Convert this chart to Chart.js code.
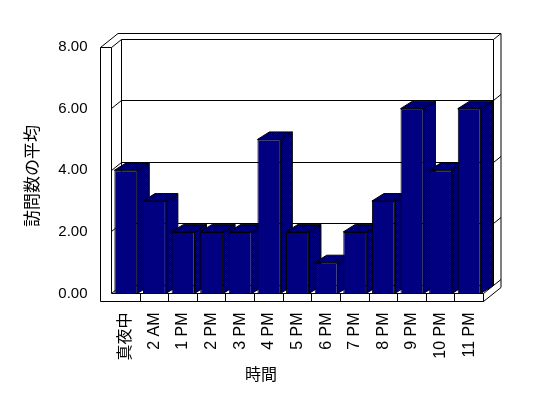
<!DOCTYPE html>
<html><head><meta charset="utf-8">
<style>html,body{margin:0;padding:0;background:#fff}#c{display:block}</style>
<script src="https://cdn.jsdelivr.net/npm/chart.js@4/dist/chart.umd.min.js"></script>
</head><body>
<canvas id="c" width="548" height="398"></canvas>
<script>
const categories = ['真夜中','2 AM','1 PM','2 PM','3 PM','4 PM','5 PM','6 PM','7 PM','8 PM','9 PM','10 PM','11 PM'];
const values = [4,3,2,2,2,5,2,1,2,3,6,4,6];
const yTickValues = [0,2,4,6,8];
const yAxisTitle = '訪問数の平均';
const xAxisTitle = '時間';

const NAVY = '#000080';
const LATIN = "'Liberation Sans', 'Noto Sans CJK JP', sans-serif";
const CJK = "'Noto Sans CJK JP', sans-serif";

const cv = document.getElementById('c');
const ctx0 = cv.getContext('2d');
const pc = document.createElement('canvas'); pc.width = 2; pc.height = 2;
const pctx = pc.getContext('2d');
pctx.fillStyle = '#000000'; pctx.fillRect(0,0,2,2);
pctx.fillStyle = NAVY; pctx.fillRect(0,0,1,1); pctx.fillRect(1,1,1,1);
const darkPattern = ctx0.createPattern(pc, 'repeat');

const WALL = 11, FLOOR = 8;
const D1 = [10, -8], D2 = [17.5, -14], BD = [12, -7.5];
const snap = v => Math.round(v - 0.5) + 0.5;

function line(ctx, pts) {
  ctx.beginPath();
  ctx.moveTo(pts[0][0], pts[0][1]);
  for (let i = 1; i < pts.length; i++) ctx.lineTo(pts[i][0], pts[i][1]);
  ctx.stroke();
}

const frame3d = {
  id: 'frame3d',
  beforeDatasetsDraw(chart) {
    const ctx = chart.ctx, ca = chart.chartArea;
    const ys = chart.scales.y, xs = chart.scales.x;
    const L = snap(ca.left), R = snap(ca.right), T = snap(ca.top), B = snap(ca.bottom);
    ctx.save();
    ctx.strokeStyle = '#000'; ctx.lineWidth = 1;
    yTickValues.forEach(v => {
      const y = snap(ys.getPixelForValue(v));
      line(ctx, [[L - WALL, y], [L, y], [L + D1[0], y + D1[1]], [R + D1[0], y + D1[1]], [R + D2[0], y + D2[1]]]);
    });
    line(ctx, [[L + D1[0], T + D1[1]], [L + D1[0], B + D1[1]]]);
    line(ctx, [[R + D1[0], T + D1[1]], [R + D1[0], B + D1[1]]]);
    line(ctx, [[R + D2[0], T + D2[1]], [R + D2[0], B + FLOOR + D2[1]]]);
    line(ctx, [[L - WALL, T], [L - WALL + D2[0], T + D2[1]], [R + D2[0], T + D2[1]]]);
    ctx.fillStyle = '#fff';
    ctx.beginPath();
    ctx.moveTo(L - WALL, T); ctx.lineTo(L, T); ctx.lineTo(L, B); ctx.lineTo(R, B);
    ctx.lineTo(R, B + FLOOR); ctx.lineTo(L - WALL, B + FLOOR); ctx.closePath();
    ctx.fill(); ctx.stroke();
    line(ctx, [[R, B], [R + D1[0], B + D1[1]]]);
    line(ctx, [[R, B + FLOOR], [R + D2[0], B + FLOOR + D2[1]]]);
    for (let i = 1; i < categories.length; i++) {
      const x = snap((xs.getPixelForTick(i - 1) + xs.getPixelForTick(i)) / 2);
      line(ctx, [[x, B], [x, B + FLOOR]]);
    }
    const meta = chart.getDatasetMeta(0);
    meta.data.forEach(bar => {
      const p = bar.getProps(['x', 'y', 'base', 'width'], true);
      const l = p.x - p.width / 2, r = p.x + p.width / 2, t = p.y, b = p.base;
      ctx.fillStyle = darkPattern;
      ctx.beginPath();
      ctx.moveTo(r, t); ctx.lineTo(r + BD[0], t + BD[1]); ctx.lineTo(r + BD[0], b + BD[1]); ctx.lineTo(r, b);
      ctx.closePath(); ctx.fill(); ctx.stroke();
      ctx.beginPath();
      ctx.moveTo(l, t); ctx.lineTo(l + BD[0], t + BD[1]); ctx.lineTo(r + BD[0], t + BD[1]); ctx.lineTo(r, t);
      ctx.closePath(); ctx.fill(); ctx.stroke();
    });
    ctx.restore();
  },
  afterDraw(chart) {
    const ctx = chart.ctx;
    ctx.save();
    ctx.fillStyle = '#000';
    ctx.textAlign = 'center'; ctx.textBaseline = 'middle';
    ctx.font = "16px " + CJK;
    ctx.fillText(xAxisTitle, 261, 374);
    ctx.font = "17px " + CJK;
    ctx.translate(32, 176);
    ctx.rotate(-Math.PI / 2);
    ctx.fillText(yAxisTitle, 0, 0);
    ctx.restore();
  }
};

new Chart(cv, {
  type: 'bar',
  data: {
    labels: categories,
    datasets: [{
      data: values,
      backgroundColor: NAVY,
      borderColor: '#000',
      borderWidth: 1,
      categoryPercentage: 1,
      barPercentage: 0.8
    }]
  },
  options: {
    responsive: false,
    animation: false,
    devicePixelRatio: 1,
    layout: { padding: { left: 0, top: 47, right: 64.5, bottom: 0 } },
    plugins: { legend: { display: false }, tooltip: { enabled: false } },
    scales: {
      x: {
        grid: { display: false }, border: { display: false },
        afterFit(s) { s.height = 104.5; },
        ticks: {
          autoSkip: false, maxRotation: 90, minRotation: 90, padding: 11,
          color: '#000', font: { family: LATIN, size: 16 }
        }
      },
      y: {
        min: 0, max: 8,
        grid: { display: false }, border: { display: false },
        afterFit(s) { s.width = 111.5; },
        afterBuildTicks(s) { s.ticks = yTickValues.map(v => ({ value: v })); },
        ticks: {
          padding: 16, color: '#000', font: { family: LATIN, size: 15 },
          callback: v => Number(v).toFixed(2)
        }
      }
    }
  },
  plugins: [frame3d]
});
</script>
</body></html>
